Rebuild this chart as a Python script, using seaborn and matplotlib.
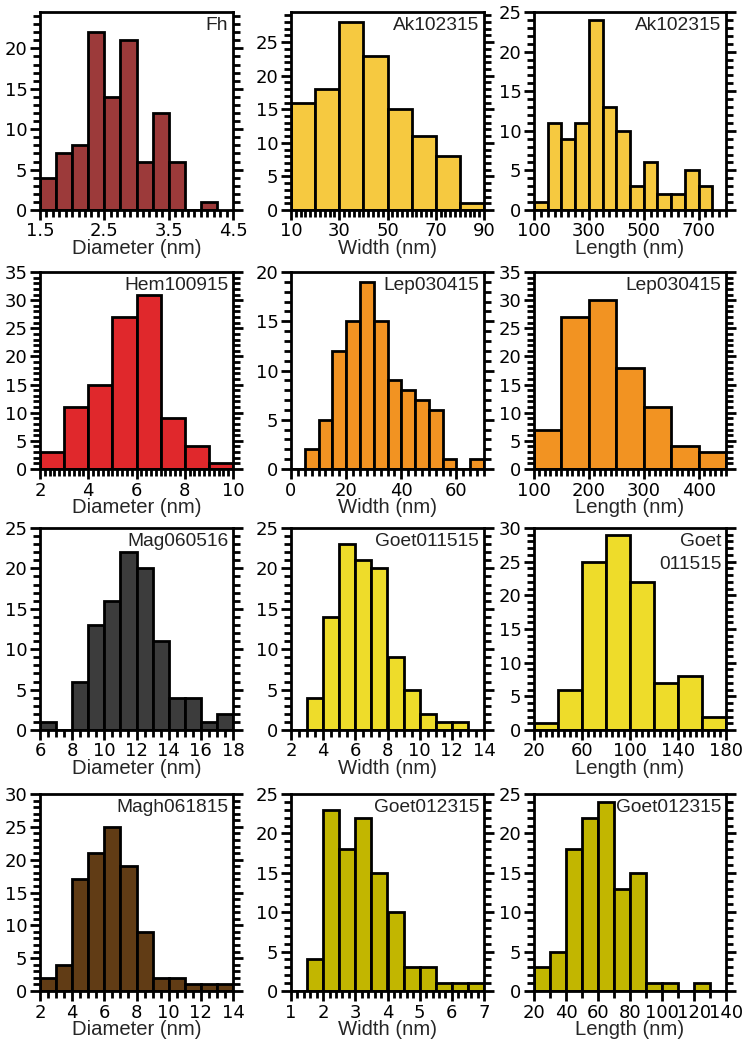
import matplotlib
matplotlib.use('Agg')
import matplotlib.pyplot as plt
import seaborn as sns
import numpy as np
from matplotlib.ticker import MultipleLocator, FixedLocator

sns.set_theme(style='ticks')
plt.rcParams['font.family'] = ['DejaVu Sans']
plt.rcParams['font.sans-serif'] = ['DejaVu Sans']

# ---------------- data (bin edges and counts) ----------------
fh_bins = [1.5, 1.75, 2.0, 2.25, 2.5, 2.75, 3.0, 3.25, 3.5, 3.75, 4.0, 4.25]
fh_counts = [4, 7, 8, 22, 14, 21, 6, 12, 6, 0, 1]

akw_bins = [10, 20, 30, 40, 50, 60, 70, 80, 90]
akw_counts = [16, 18, 28, 23, 15, 11, 8, 1]

akl_bins = [100, 150, 200, 250, 300, 350, 400, 450, 500, 550, 600, 650, 700, 750]
akl_counts = [1, 11, 9, 11, 24, 13, 10, 3, 6, 2, 2, 5, 3]

hem_bins = [2, 3, 4, 5, 6, 7, 8, 9, 10]
hem_counts = [3, 11, 15, 27, 31, 9, 4, 1]

lepw_bins = [0, 5, 10, 15, 20, 25, 30, 35, 40, 45, 50, 55, 60, 65, 70]
lepw_counts = [0, 2, 5, 12, 15, 19, 15, 9, 8, 7, 6, 1, 0, 1]

lepl_bins = [100, 150, 200, 250, 300, 350, 400, 450]
lepl_counts = [7, 27, 30, 18, 11, 4, 3]

mag_bins = [6, 7, 8, 9, 10, 11, 12, 13, 14, 15, 16, 17, 18]
mag_counts = [1, 0, 6, 13, 16, 22, 20, 11, 4, 4, 1, 2]

g1w_bins = [2, 3, 4, 5, 6, 7, 8, 9, 10, 11, 12, 13]
g1w_counts = [0, 4, 14, 23, 21, 20, 9, 5, 2, 1, 1]

g1l_bins = [20, 40, 60, 80, 100, 120, 140, 160, 180]
g1l_counts = [1, 6, 25, 29, 22, 7, 8, 2]

magh_bins = [2, 3, 4, 5, 6, 7, 8, 9, 10, 11, 12, 13, 14]
magh_counts = [2, 4, 17, 21, 25, 19, 9, 2, 2, 1, 1, 1]

g2w_bins = [1, 1.5, 2, 2.5, 3, 3.5, 4, 4.5, 5, 5.5, 6, 6.5, 7]
g2w_counts = [0, 4, 23, 18, 22, 15, 10, 3, 3, 1, 1, 1]

g2l_bins = [20, 30, 40, 50, 60, 70, 80, 90, 100, 110, 120, 130, 140]
g2l_counts = [3, 5, 18, 22, 24, 13, 15, 1, 1, 0, 1, 0]

sample_names = ['Fh', 'Ak102315', 'Ak102315',
                'Hem100915', 'Lep030415', 'Lep030415',
                'Mag060516', 'Goet011515', 'Goet\n011515',
                'Magh061815', 'Goet012315', 'Goet012315']
x_titles = ['Diameter (nm)', 'Width (nm)', 'Length (nm)']

fh_xticks = [1.5, 2.5, 3.5, 4.5]
akw_xticks = [10, 30, 50, 70, 90]
akl_xticks = [100, 300, 500, 700]
hem_xticks = [2, 4, 6, 8, 10]
lepw_xticks = [0, 20, 40, 60]
lepl_xticks = [100, 200, 300, 400]
mag_xticks = [6, 8, 10, 12, 14, 16, 18]
g1w_xticks = [2, 4, 6, 8, 10, 12, 14]
g1l_xticks = [20, 60, 100, 140, 180]
magh_xticks = [2, 4, 6, 8, 10, 12, 14]
g2w_xticks = [1, 2, 3, 4, 5, 6, 7]
g2l_xticks = [20, 40, 60, 80, 100, 120, 140]

# ---------------- styling / layout ----------------
colors = ['#9c3a3a', '#f6c940', '#f6c940',
          '#e0282c', '#f29322', '#f29322',
          '#3c3c3c', '#eedc2a', '#eedc2a',
          '#613c15', '#c2b600', '#c2b600']

panels = [
    (fh_bins, fh_counts, fh_xticks, (1.5, 4.5), 24.5, 0.1),
    (akw_bins, akw_counts, akw_xticks, (10, 90), 29.5, 2),
    (akl_bins, akl_counts, akl_xticks, (100, 800), 25, 25),
    (hem_bins, hem_counts, hem_xticks, (2, 10), 35, 0.2),
    (lepw_bins, lepw_counts, lepw_xticks, (0, 70), 20, 2.5),
    (lepl_bins, lepl_counts, lepl_xticks, (100, 450), 35, 10),
    (mag_bins, mag_counts, mag_xticks, (6, 18), 25, 0.5),
    (g1w_bins, g1w_counts, g1w_xticks, (2, 14), 25, 0.5),
    (g1l_bins, g1l_counts, g1l_xticks, (20, 180), 30, 5),
    (magh_bins, magh_counts, magh_xticks, (2, 14), 30, 0.5),
    (g2w_bins, g2w_counts, g2w_xticks, (1, 7), 25, 0.2),
    (g2l_bins, g2l_counts, g2l_xticks, (20, 140), 25, 10),
]

W, H = 750, 1048
col_lr = [(40, 233), (291, 484), (534, 726)]
row_tb = [(12, 210), (272, 469), (528, 730), (794, 991)]

fig = plt.figure(figsize=(W / 100, H / 100), dpi=100)

for i, (bins, counts, xt, xl, ytop, xminor) in enumerate(panels):
    r, c = divmod(i, 3)
    l, rr = col_lr[c]
    t, b = row_tb[r]
    ax = fig.add_axes([l / W, 1 - b / H, (rr - l) / W, (b - t) / H])
    centers = [(bins[k] + bins[k + 1]) / 2 for k in range(len(counts))]
    sns.histplot(x=centers, weights=counts, bins=bins, ax=ax,
                 color=colors[i], edgecolor='black', linewidth=2.0, alpha=1)
    ax.set_xlim(*xl)
    ax.set_ylim(0, ytop)
    ax.set_xticks(xt)
    ax.set_xticklabels([('%g' % v) for v in xt])
    ax.xaxis.set_minor_locator(MultipleLocator(xminor))
    ax.yaxis.set_major_locator(MultipleLocator(5))
    ax.yaxis.set_minor_locator(MultipleLocator(1))
    ax.set_ylabel('')
    ax.set_xlabel(x_titles[c], fontsize=14.6, family='Liberation Sans', labelpad=-1)
    for s in ax.spines.values():
        s.set_visible(True)
        s.set_linewidth(2.0)
        s.set_color('black')
    ax.tick_params(axis='both', which='both', direction='out', width=2.0,
                   colors='black', labelsize=13, pad=2)
    ax.tick_params(axis='both', which='major', length=7)
    ax.tick_params(axis='both', which='minor', length=5)
    ax.tick_params(axis='y', which='both', left=True, right=True,
                   labelleft=True, labelright=False)
    ax.tick_params(axis='x', which='both', top=False, bottom=True)
    for lab in ax.get_xticklabels() + ax.get_yticklabels():
        lab.set_family('DejaVu Sans')
    ax.text(0.975, 0.975, sample_names[i], transform=ax.transAxes,
            ha='right', va='top', fontsize=13.8, family='Liberation Sans',
            color='#222222', linespacing=1.45)

fig.savefig('out.png', dpi=100)
